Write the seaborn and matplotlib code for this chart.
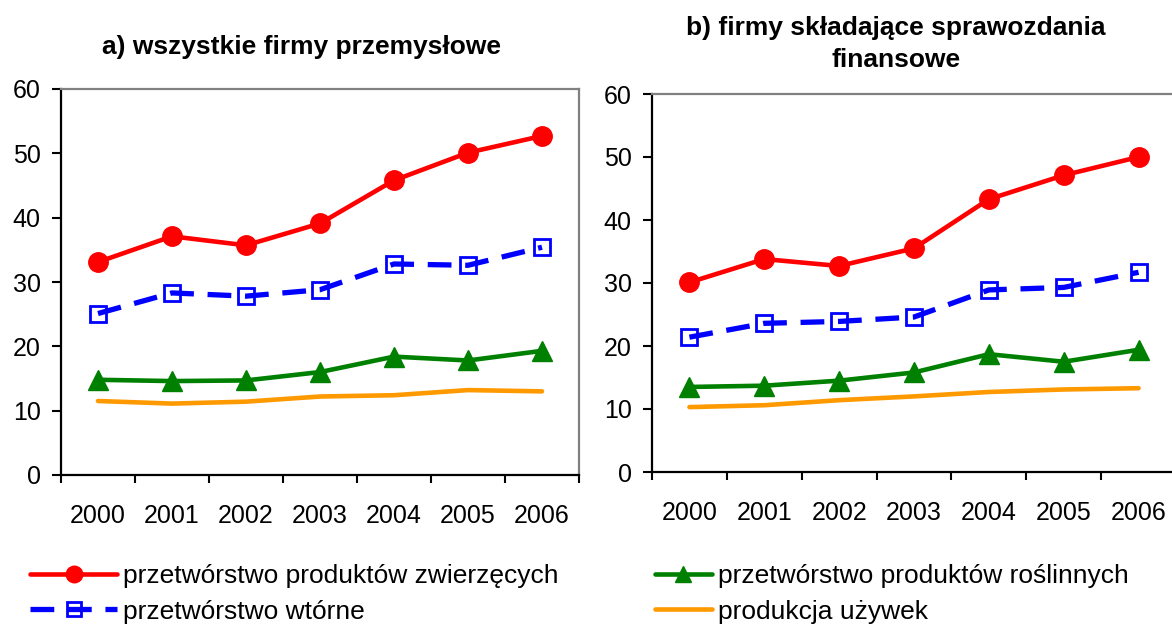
import numpy as np
import pandas as pd
import matplotlib
matplotlib.use("Agg")
import matplotlib.pyplot as plt
from matplotlib.lines import Line2D
import seaborn as sns

# Lata i wartości (%) dla obu grup firm
years = ["2000", "2001", "2002", "2003", "2004", "2005", "2006"]

a_zwierzece = [33.1, 37.1, 35.7, 39.1, 45.8, 50.1, 52.7]
a_wtorne = [25.1, 28.3, 27.8, 28.8, 32.8, 32.6, 35.4]
a_roslinne = [14.8, 14.6, 14.7, 16.0, 18.4, 17.8, 19.3]
a_uzywki = [11.5, 11.1, 11.4, 12.2, 12.4, 13.2, 13.0]

b_zwierzece = [30.1, 33.8, 32.7, 35.5, 43.3, 47.1, 50.0]
b_wtorne = [21.4, 23.6, 23.9, 24.6, 28.9, 29.3, 31.7]
b_roslinne = [13.5, 13.7, 14.5, 15.8, 18.7, 17.5, 19.4]
b_uzywki = [10.3, 10.6, 11.4, 12.0, 12.7, 13.1, 13.3]

series_names = [
    "przetwórstwo produktów zwierzęcych",
    "przetwórstwo wtórne",
    "przetwórstwo produktów roślinnych",
    "produkcja używek",
]

titles = ["a) wszystkie firmy przemysłowe",
          "b) firmy składające sprawozdania\nfinansowe"]

sns.set_theme(style="white")
plt.rcParams["font.family"] = ["Liberation Sans", "DejaVu Sans"]
plt.rcParams["text.color"] = "black"
plt.rcParams["xtick.labelcolor"] = "black"
plt.rcParams["ytick.labelcolor"] = "black"

styles = {
    series_names[0]: dict(color="#ff0000", marker="o", markersize=14, lw=3.3,
                          linestyle="-", mfc="#ff0000", mec="#ff0000"),
    series_names[1]: dict(color="#0000ff", marker="s", markersize=12, lw=3.8,
                          linestyle=(0, (4.5, 2.6)), mfc="none", mec="#0000ff",
                          mew=2.0),
    series_names[2]: dict(color="#008000", marker="^", markersize=14, lw=3.3,
                          linestyle="-", mfc="#008000", mec="#008000"),
    series_names[3]: dict(color="#ff9900", marker=None, markersize=0, lw=3.3,
                          linestyle="-", mfc="#ff9900", mec="#ff9900"),
}

panels = [
    (a_zwierzece, a_wtorne, a_roslinne, a_uzywki),
    (b_zwierzece, b_wtorne, b_roslinne, b_uzywki),
]

W, H = 1172, 625
fig = plt.figure(figsize=(W / 100, H / 100), dpi=100)

# pixel boxes of the two plot areas: left, top, right, bottom
boxes = [(61, 89, 579, 475), (652, 94, 1176, 472)]
axes = []
for (l, t, r, b) in boxes:
    axes.append(fig.add_axes([l / W, 1 - b / H, (r - l) / W, (b - t) / H]))

pos = np.arange(len(years))
for ax, vals in zip(axes, panels):
    df = pd.DataFrame({"rok": np.tile(pos, 4),
                       "wartosc": np.concatenate(vals),
                       "seria": np.repeat(series_names, len(years))})
    for name in series_names[::-1]:
        st = styles[name]
        sub = df[df["seria"] == name]
        sns.lineplot(data=sub, x="rok", y="wartosc", ax=ax, color=st["color"],
                     lw=st["lw"], linestyle=st["linestyle"], marker=st["marker"],
                     markersize=st["markersize"], markerfacecolor=st["mfc"],
                     markeredgecolor=st["mec"], markeredgewidth=st.get("mew", 1),
                     legend=False, zorder=3)
    ax.set_xlim(-0.5, len(years) - 0.5)
    ax.set_ylim(0, 60)
    ax.set_yticks(range(0, 61, 10))
    ax.set_xticks(np.arange(-0.5, len(years), 1.0))
    ax.set_xticklabels([])
    ax.set_xticks(pos, labels=years, minor=True)
    ax.set_xlabel("")
    ax.set_ylabel("")
    ax.tick_params(axis="x", which="major", direction="out", length=6,
                   width=1.5, color="black", bottom=True)
    ax.tick_params(axis="x", which="minor", length=0, pad=21, labelsize=18,
                   bottom=True, labelcolor="black")
    ax.tick_params(axis="y", direction="out", length=6.5, width=1.5,
                   color="black", left=True, pad=8, labelsize=18,
                   labelcolor="black")
    for s in ("left", "bottom"):
        ax.spines[s].set_color("black")
        ax.spines[s].set_linewidth(1.6)
    for s in ("top", "right"):
        ax.spines[s].set_color("#808080")
        ax.spines[s].set_linewidth(1.6)
    ax.grid(False)
    ax.set_facecolor("white")

fig.text(301 / W, 1 - 47 / H, titles[0], ha="center", va="center",
         fontsize=19, fontweight="bold", color="black")
fig.text(896 / W, 1 - 44 / H, titles[1], ha="center", va="center",
         fontsize=19, fontweight="bold", linespacing=1.42, color="black")


def handle(name):
    st = styles[name]
    return Line2D([], [], color=st["color"], lw=st["lw"], linestyle=st["linestyle"],
                  marker=st["marker"], markersize=st["markersize"] * 0.85,
                  markerfacecolor=st["mfc"], markeredgecolor=st["mec"],
                  markeredgewidth=st.get("mew", 1))


leg_kw = dict(frameon=False, fontsize=19, borderpad=0, borderaxespad=0,
              labelspacing=0.42, handletextpad=0.22, loc="center left",
              labelcolor="black")
leg1 = fig.legend([handle(n) for n in series_names[:2]], series_names[:2],
                  bbox_to_anchor=(30 / W, 1 - 594 / H), handlelength=3.3, **leg_kw)
leg2 = fig.legend([handle(n) for n in series_names[2:]], series_names[2:],
                  bbox_to_anchor=(655 / W, 1 - 594 / H), handlelength=2.15, **leg_kw)

fig.savefig("out.png", dpi=100, facecolor="white")
